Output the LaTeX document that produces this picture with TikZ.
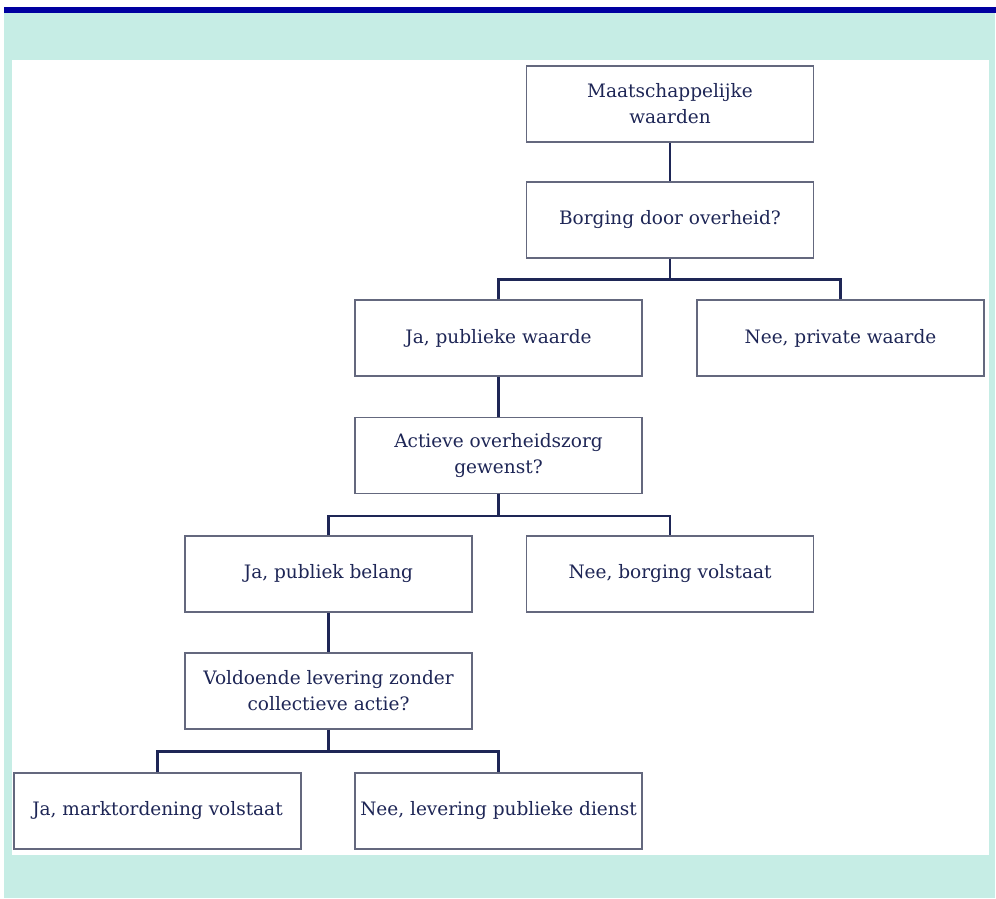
\documentclass[tikz,border=0pt]{standalone}
\usepackage{fontspec}
\setmainfont{DejaVu Serif}
\usetikzlibrary{calc}
\definecolor{mint}{HTML}{C6EDE5}
\definecolor{barblue}{HTML}{0000A0}
\definecolor{navy}{HTML}{1E2656}
\definecolor{boxline}{HTML}{64687E}
\tikzset{
  fbox/.style={draw=boxline, line width=1.1pt, fill=white, minimum width=287pt, minimum height=76pt,
    inner sep=0pt, align=center, text=navy, font=\fontsize{18.5}{26}\selectfont},
  conn/.style={draw=navy, line width=2.5pt},
}
\begin{document}
\begin{tikzpicture}[x=1pt,y=1pt]
\useasboundingbox (0,0) rectangle (996,-898);
\fill[white] (0,0) rectangle (996,-898);
\fill[mint] (4,-13) rectangle (995,-898);
\fill[barblue] (4,-7) rectangle (996,-13);
\fill[white] (12,-60) rectangle (989,-855);

\node[fbox] (b1) at (670,-104) {Maatschappelijke\\waarden};
\node[fbox] (b2) at (670,-220) {Borging door overheid?};
\node[fbox] (b3) at (498.5,-338) {Ja, publieke waarde};
\node[fbox] (b4) at (840.5,-338) {Nee, private waarde};
\node[fbox] (b5) at (498.5,-455.5) {Actieve overheidszorg\\gewenst?};
\node[fbox] (b6) at (328.5,-574) {Ja, publiek belang};
\node[fbox] (b7) at (670,-574) {Nee, borging volstaat};
\node[fbox] (b8) at (328.5,-691) {Voldoende levering zonder\\collectieve actie?};
\node[fbox] (b9) at (157.5,-811) {Ja, marktordening volstaat};
\node[fbox] (b10) at (498.5,-811) {Nee, levering publieke dienst};

\coordinate (j1) at ([yshift=-21pt]b2.south);
\coordinate (j2) at ([yshift=-22pt]b5.south);
\coordinate (j3) at ([yshift=-22pt]b8.south);

\draw[conn] (b1.south) -- (b2.north);
\draw[conn] (b2.south) -- (j1);
\draw[conn] (b3.north) |- (j1) -| (b4.north);
\draw[conn] (b3.south) -- (b5.north);
\draw[conn] (b5.south) -- (j2);
\draw[conn] (b6.north) |- (j2) -| (b7.north);
\draw[conn] (b6.south) -- (b8.north);
\draw[conn] (b8.south) -- (j3);
\draw[conn] (b9.north) |- (j3) -| (b10.north);
\end{tikzpicture}
\end{document}
